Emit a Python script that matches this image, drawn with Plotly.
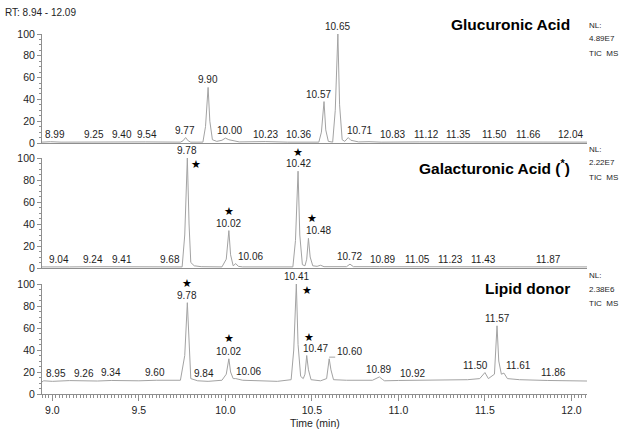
import numpy as np
import plotly.graph_objects as go

# ---------------- data ----------------
rt_range = [8.94, 12.09]
x_ticks = [9.0, 9.5, 10.0, 10.5, 11.0, 11.5, 12.0]
y_ticks = [0, 20, 40, 60, 80, 100]

panel_names = ["Glucuronic Acid", "Galacturonic Acid (<sup>*</sup>)", "Lipid donor"]
panel_nl = ["4.89E7", "2.22E7", "2.38E6"]

# Glucuronic acid TIC trace (time, relative abundance)
gluc_t = [8.94, 8.99, 9.05, 9.25, 9.40, 9.54, 9.74, 9.755, 9.77, 9.785, 9.80, 9.87, 9.885,
          9.90, 9.91, 9.925, 9.95, 9.98, 10.00, 10.02, 10.05, 10.08, 10.23, 10.36, 10.54,
          10.555, 10.57, 10.58, 10.595, 10.62, 10.635, 10.65, 10.66, 10.675, 10.69, 10.71,
          10.725, 10.75, 10.77, 10.83, 10.90, 11.12, 11.35, 11.50, 11.66, 12.04, 12.09]
gluc_i = [0.8, 1.2, 0.8, 1.0, 1.0, 1.0, 0.8, 2.0, 5.0, 2.0, 0.8, 0.8, 15.0,
          51.0, 20.0, 3.0, 1.5, 2.5, 4.5, 3.0, 2.0, 1.0, 1.3, 0.8, 0.8,
          10.0, 38.0, 12.0, 1.5, 0.8, 30.0, 100.0, 35.0, 3.0, 1.5, 5.0,
          2.5, 2.0, 1.0, 1.2, 0.8, 1.0, 1.0, 1.0, 1.0, 0.9, 0.8]
gluc_labels = [8.99, 9.25, 9.40, 9.54, 9.77, 9.90, 10.00, 10.23, 10.36, 10.57, 10.65,
               10.71, 10.83, 11.12, 11.35, 11.50, 11.66, 12.04]

# Galacturonic acid TIC trace
galac_t = [8.94, 9.04, 9.10, 9.24, 9.41, 9.68, 9.75, 9.765, 9.78, 9.79, 9.80, 9.82, 9.86,
           9.98, 10.005, 10.02, 10.03, 10.045, 10.06, 10.075, 10.10, 10.39, 10.405, 10.42,
           10.43, 10.445, 10.46, 10.47, 10.48, 10.49, 10.505, 10.53, 10.55, 10.57, 10.70,
           10.72, 10.74, 10.89, 11.05, 11.23, 11.43, 11.87, 12.09]
galac_i = [1.0, 1.3, 1.0, 1.2, 1.2, 1.3, 1.0, 30.0, 100.0, 40.0, 5.0, 2.0, 1.2,
           1.0, 8.0, 34.0, 12.0, 2.0, 4.0, 1.5, 1.0, 1.0, 25.0, 88.0,
           30.0, 3.0, 2.0, 8.0, 27.0, 10.0, 2.0, 1.5, 2.5, 1.2, 1.2,
           3.5, 1.2, 1.2, 1.1, 1.1, 1.1, 1.1, 1.0]
galac_labels = [9.04, 9.24, 9.41, 9.68, 9.78, 10.02, 10.06, 10.42, 10.48, 10.72, 10.89,
                11.05, 11.23, 11.43, 11.87]
galac_stars = [9.78, 10.02, 10.42, 10.48]

# Lipid donor TIC trace
lipid_t = [8.94, 8.95, 9.00, 9.10, 9.26, 9.34, 9.50, 9.60, 9.74, 9.765, 9.78, 9.79, 9.80,
           9.84, 9.90, 9.98, 10.005, 10.02, 10.03, 10.045, 10.06, 10.10, 10.20, 10.30,
           10.38, 10.395, 10.41, 10.42, 10.435, 10.45, 10.46, 10.47, 10.48, 10.495, 10.55,
           10.585, 10.60, 10.61, 10.625, 10.70, 10.85, 10.89, 10.91, 10.92, 11.00, 11.20,
           11.40, 11.47, 11.50, 11.52, 11.555, 11.57, 11.58, 11.595, 11.61, 11.63, 11.70,
           11.86, 12.00, 12.09]
lipid_i = [11.0, 12.0, 11.5, 12.2, 11.8, 12.3, 12.0, 12.5, 12.5, 35.0, 83.0, 40.0, 14.0,
           12.0, 11.5, 12.5, 18.0, 32.0, 20.0, 14.0, 14.0, 12.5, 12.0, 11.5,
           13.0, 40.0, 100.0, 45.0, 16.0, 14.0, 18.0, 35.0, 22.0, 13.0, 12.0,
           14.0, 32.0, 22.0, 13.0, 12.5, 12.5, 15.5, 13.0, 12.0, 12.3, 12.5,
           13.0, 14.0, 19.5, 14.0, 18.0, 62.0, 30.0, 18.0, 19.0, 14.0, 13.0,
           12.3, 12.0, 11.8]
lipid_labels = [8.95, 9.26, 9.34, 9.60, 9.78, 9.84, 10.02, 10.06, 10.41, 10.47, 10.60,
                10.89, 10.92, 11.50, 11.57, 11.61, 11.86]
lipid_stars = [9.78, 10.02, 10.41, 10.47]

# ---------------- style / placement (pixels) ----------------
gluc_label_dx = [4, -2, 0, 1, -1, 0, 4, 0, 11, -6, 0, 11, 23, 7, 0, 10, 16, -8]
galac_label_dx = [0, -1, -1, 0, 0, 0, 15, 0, 10, 0, 3, 10, 12, 11, 0]
lipid_label_dx = [12, -13, 0, -1, 0, 6, 0, 13, 0, 9, 20, -1, 28, -9, 0, 15, 6]
# star placement: (dx, dy) in pixels relative to the peak apex
galac_star_off = [(9, -6), (0, 19), (0, 19), (4, 20)]
lipid_star_off = [(0, 19), (0, 20), (11, -6), (2, 18)]

FONT = "Arial, Liberation Sans, sans-serif"
TRACE_COLOR = "#a3a3a3"
AXIS_COLOR = "#8f8f8f"
TEXT_COLOR = "#1e1e1e"

L, R, T, B = 42, 37, 34, 39
W, H = 624, 433
PW, PH = W - L - R, H - T - B


def px_x(x):
    return (x - L) / PW


def px_y(y):
    return (H - B - y) / PH


domains = [[px_y(143), 1.0], [px_y(268), px_y(158)], [0.0, px_y(284)]]
panel_top_px = [34, 158, 284]

fig = go.Figure()
series = [(gluc_t, gluc_i), (galac_t, galac_i), (lipid_t, lipid_i)]
for k, (t, v) in enumerate(series, start=1):
    fig.add_trace(go.Scatter(x=t, y=v, mode="lines", xaxis=f"x{k}", yaxis=f"y{k}",
                             line=dict(color=TRACE_COLOR, width=1), hoverinfo="skip",
                             showlegend=False))

layout = dict(width=W, height=H, margin=dict(l=L, r=R, t=T, b=B),
              paper_bgcolor="white", plot_bgcolor="white",
              font=dict(family=FONT, color=TEXT_COLOR), showlegend=False)
for k in range(1, 4):
    bottom = (k == 3)
    xa = dict(
        range=rt_range, domain=[0, 1], anchor=f"y{k}",
        showline=True, linecolor=AXIS_COLOR, linewidth=1,
        showgrid=False, zeroline=False,
        ticks="outside" if bottom else "", ticklen=6, tickcolor=AXIS_COLOR,
        showticklabels=bottom, tickfont=dict(size=10.5, color=TEXT_COLOR),
    )
    if bottom:
        xa.update(tickvals=x_ticks, ticktext=[f"{v:.1f}" for v in x_ticks],
                  minor=dict(dtick=0.02, tick0=9.0, ticks="outside", ticklen=3, tickcolor=AXIS_COLOR))
    else:
        xa.update(tickvals=[])
    layout[f"xaxis{k}" if k > 1 else "xaxis"] = xa
    layout[f"yaxis{k}" if k > 1 else "yaxis"] = dict(
        range=[0, 100], domain=domains[k - 1], anchor=f"x{k}",
        showline=True, linecolor=AXIS_COLOR, linewidth=1,
        showgrid=False, zeroline=False,
        tickvals=y_ticks, ticks="outside", ticklen=4, tickcolor=AXIS_COLOR,
        tickfont=dict(size=10.5, color=TEXT_COLOR),
        minor=dict(dtick=5, ticks="outside", ticklen=2, tickcolor=AXIS_COLOR),
    )
fig.update_layout(**layout)

ann = []
label_sets = [(gluc_labels, gluc_label_dx), (galac_labels, galac_label_dx), (lipid_labels, lipid_label_dx)]
for k, ((t, v), (labs, dxs)) in enumerate(zip(series, label_sets), start=1):
    for rt, dx in zip(labs, dxs):
        ann.append(dict(x=rt, y=float(np.interp(rt, t, v)), xref=f"x{k}", yref=f"y{k}",
                        text=f"{rt:.2f}", showarrow=False, xanchor="center", yanchor="bottom",
                        xshift=dx, yshift=0, font=dict(size=10, color=TEXT_COLOR, family=FONT)))

for k, stars, offs in [(2, galac_stars, galac_star_off), (3, lipid_stars, lipid_star_off)]:
    t, v = series[k - 1]
    for rt, (dx, dy) in zip(stars, offs):
        ann.append(dict(x=rt, y=float(np.interp(rt, t, v)), xref=f"x{k}", yref=f"y{k}",
                        text="★", showarrow=False, xanchor="center", yanchor="middle",
                        xshift=dx, yshift=dy, font=dict(size=11, color="black", family="DejaVu Sans")))

# leader line for the offset 10.60 label in the lipid panel
lead_rt = 10.60
lead_v = float(np.interp(lead_rt, lipid_t, lipid_i))
fig.add_shape(type="line", xref="x3", yref="y3", x0=lead_rt, x1=lead_rt + 6 / (PW / (rt_range[1] - rt_range[0])),
              y0=lead_v + 1.5, y1=lead_v + 1.5, line=dict(color=TRACE_COLOR, width=1))

title_y_px = [24, 167, 288]
for k in range(3):
    ann.append(dict(x=px_x(572), y=px_y(title_y_px[k]), xref="paper", yref="paper",
                    text=f"<b>{panel_names[k]}</b>", showarrow=False, xanchor="right", yanchor="middle",
                    font=dict(size=15.5, color="black", family=FONT)))
    top = panel_top_px[k]
    nl_rows = [("NL:", top - 9), (panel_nl[k], top + 5), ("TIC  MS", top + 19)]
    for txt, ypx in nl_rows:
        ann.append(dict(x=px_x(587), y=px_y(ypx), xref="paper", yref="paper", text=txt,
                        showarrow=False, xanchor="left", yanchor="middle",
                        font=dict(size=8, color=TEXT_COLOR, family=FONT)))

ann.append(dict(x=px_x(3), y=px_y(12), xref="paper", yref="paper", text="RT: 8.94 - 12.09",
                showarrow=False, xanchor="left", yanchor="middle",
                font=dict(size=10, color=TEXT_COLOR, family=FONT)))
ann.append(dict(x=px_x(315), y=px_y(423), xref="paper", yref="paper", text="Time (min)",
                showarrow=False, xanchor="center", yanchor="middle",
                font=dict(size=10.5, color=TEXT_COLOR, family=FONT)))

fig.update_layout(annotations=ann)
fig.write_html("out.html", config={"displayModeBar": False},
               post_script="document.body.style.margin='0px';document.body.style.overflow='hidden';")
